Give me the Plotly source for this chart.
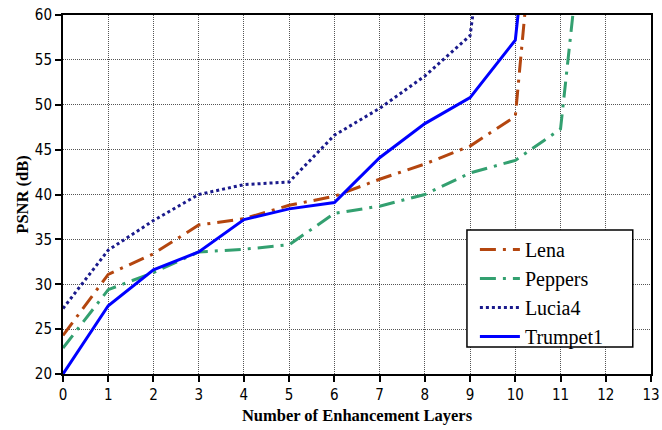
import plotly.graph_objects as go

lena_x = [0, 1, 2, 3, 4, 5, 6, 7, 8, 9, 10, 11]
lena_y = [24.3, 31.1, 33.4, 36.6, 37.3, 38.8, 39.8, 41.7, 43.4, 45.4, 48.7, 103.0]

peppers_x = [0, 1, 2, 3, 4, 5, 6, 7, 8, 9, 10, 11, 12]
peppers_y = [22.9, 29.4, 31.3, 33.6, 33.9, 34.4, 37.9, 38.7, 40.0, 42.4, 43.8, 47.3, 94.0]

lucia_x = [0, 1, 2, 3, 4, 5, 6, 7, 8, 9, 10]
lucia_y = [27.3, 33.8, 37.1, 40.0, 41.1, 41.4, 46.6, 49.6, 53.2, 57.7, 96.0]

trumpet_x = [0, 1, 2, 3, 4, 5, 6, 7, 8, 9, 10, 11]
trumpet_y = [20.0, 27.6, 31.6, 33.6, 37.2, 38.4, 39.1, 44.1, 47.9, 50.8, 57.2, 104.0]

x_ticks = list(range(0, 14))
y_ticks = [20, 25, 30, 35, 40, 45, 50, 55, 60]

fig = go.Figure()
fig.add_trace(go.Scatter(x=lena_x, y=lena_y, mode="lines", name="Lena",
                         line=dict(color="#B4460F", width=3, dash="16px,7px,3px,7px")))
fig.add_trace(go.Scatter(x=peppers_x, y=peppers_y, mode="lines", name="Peppers",
                         line=dict(color="#33A070", width=3, dash="16px,7px,3px,7px")))
fig.add_trace(go.Scatter(x=lucia_x, y=lucia_y, mode="lines", name="Lucia4",
                         line=dict(color="#1A1A8C", width=3, dash="3px,3px")))
fig.add_trace(go.Scatter(x=trumpet_x, y=trumpet_y, mode="lines", name="Trumpet1",
                         line=dict(color="#0000FF", width=3)))

tick_font = dict(family="DejaVu Sans Condensed, Liberation Sans, sans-serif", size=15, color="black")
title_font = dict(family="Liberation Serif", size=16.5, color="black")

axis_common = dict(
    showline=True, linecolor="black", linewidth=2, mirror=True,
    ticks="outside", tickcolor="black", ticklen=6, tickwidth=2,
    showgrid=True, gridcolor="#555555", gridwidth=1, griddash="1px,1px",
    zeroline=False, automargin=False,
    tickfont=tick_font,
)

fig.update_xaxes(range=[0, 13], tickvals=x_ticks, **axis_common,
                 title=dict(text="<b>Number of Enhancement Layers</b>",
                            font=title_font, standoff=6))
fig.update_yaxes(range=[20, 60], tickvals=y_ticks, **axis_common,
                 title=dict(text="<b>PSNR (dB)</b>",
                            font=title_font, standoff=2))

# legend frame
fig.add_shape(type="rect", xref="paper", yref="paper",
              x0=0.687, x1=0.969, y0=0.075, y1=0.401,
              line=dict(color="black", width=1.5), fillcolor="white", layer="above")

fig.update_layout(
    width=662, height=430,
    margin=dict(l=63, r=11, t=15, b=56),
    paper_bgcolor="white", plot_bgcolor="white",
    showlegend=True,
    legend=dict(x=0.7005, y=0.401, xanchor="left", yanchor="top",
                bgcolor="rgba(0,0,0,0)", borderwidth=0,
                font=dict(family="Liberation Serif", size=20, color="black"),
                tracegroupgap=0, itemwidth=40),
)

fig.write_html("out.html", config={"displayModeBar": False},
               post_script="document.body.style.margin='0';")
